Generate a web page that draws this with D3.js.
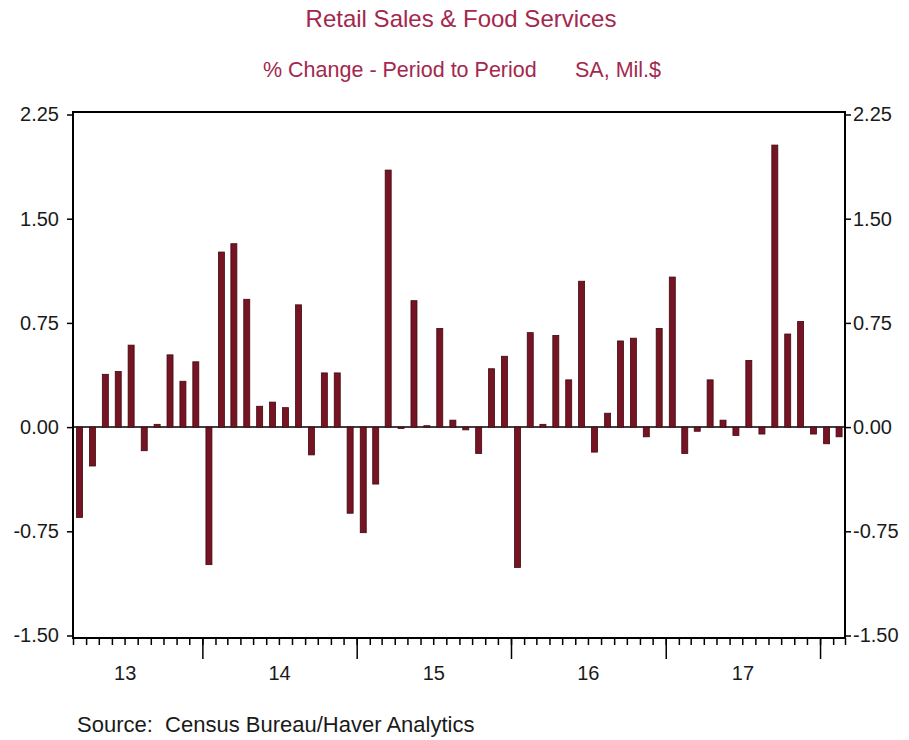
<!DOCTYPE html>
<html>
<head>
<meta charset="utf-8">
<script src="https://cdn.jsdelivr.net/npm/d3@7"></script>
<style>
  body { margin: 0; background: #fff; }
  svg { display: block; font-family: "Liberation Sans", Arial, sans-serif; }
</style>
</head>
<body>
<div id="chart"></div>
<script>
// monthly % change, Mar 2013 .. Feb 2018
const firstMonth = new Date(2013, 2, 1);
const endMonth = new Date(2018, 2, 1);
const pctChange = [
  -0.65, -0.28, 0.38, 0.40, 0.59, -0.17, 0.02, 0.52, 0.33, 0.47,             // 2013
  -0.99, 1.26, 1.32, 0.92, 0.15, 0.18, 0.14, 0.88, -0.20, 0.39, 0.39, -0.62, // 2014
  -0.76, -0.41, 1.85, -0.01, 0.91, 0.01, 0.71, 0.05, -0.02, -0.19, 0.42, 0.51, // 2015
  -1.01, 0.68, 0.02, 0.66, 0.34, 1.05, -0.18, 0.10, 0.62, 0.64, -0.07, 0.71, // 2016
  1.08, -0.19, -0.03, 0.34, 0.05, -0.06, 0.48, -0.05, 2.03, 0.67, 0.76, -0.05, // 2017
  -0.12, -0.07                                                                // 2018
];
const years = [2013, 2014, 2015, 2016, 2017];
const yearLabels = ["13", "14", "15", "16", "17"];
const yTicks = [-1.5, -0.75, 0, 0.75, 1.5, 2.25];

const title = "Retail Sales & Food Services";
const subtitleLeft = "% Change - Period to Period";
const subtitleRight = "SA, Mil.$";
const source = "Source:  Census Bureau/Haver Analytics";

const width = 909, height = 740;
const plot = {left: 73, right: 845, top: 112, bottom: 638};
const titleColor = "#a3284e";
const barColor = "#761424";
const textColor = "#1a1a1a";

const months = d3.timeMonth.range(firstMonth, endMonth);
const data = months.map((m, i) => ({month: m, value: pctChange[i]}));

const svg = d3.select("#chart")
  .append("svg")
  .attr("width", width)
  .attr("height", height);

svg.append("rect")
  .attr("width", width).attr("height", height)
  .attr("fill", "#fff");

var x = d3.scaleTime()
  .domain([firstMonth, endMonth])
  .range([plot.left, plot.right]);

var y = d3.scaleLinear()
  .domain([-1.5, 2.25])
  .range([plot.bottom - 2.5, plot.top + 2.5]);

// titles
svg.append("text")
  .attr("x", 461)
  .attr("y", 27)
  .attr("text-anchor", "middle")
  .attr("font-size", 24)
  .attr("fill", titleColor)
  .text(title);

svg.append("text")
  .attr("x", 263)
  .attr("y", 77)
  .attr("font-size", 21.5)
  .attr("fill", titleColor)
  .text(subtitleLeft);

svg.append("text")
  .attr("x", 575)
  .attr("y", 77)
  .attr("font-size", 21.5)
  .attr("fill", titleColor)
  .text(subtitleRight);

// zero line
svg.append("line")
  .attr("x1", plot.left).attr("x2", plot.right)
  .attr("y1", y(0)).attr("y2", y(0))
  .attr("stroke", "#000")
  .attr("stroke-width", 1.5);

// bars
const barW = 6;
svg.append("g")
  .selectAll("rect")
  .data(data)
  .enter()
  .append("rect")
  .attr("x", d => (x(d.month) + x(d3.timeMonth.offset(d.month, 1))) / 2 - barW / 2)
  .attr("y", d => y(Math.max(0, d.value)))
  .attr("width", barW)
  .attr("height", d => Math.abs(y(d.value) - y(0)))
  .attr("fill", barColor)
  .attr("stroke", "#3e0910")
  .attr("stroke-width", 0.8);

// frame
svg.append("rect")
  .attr("x", plot.left).attr("y", plot.top)
  .attr("width", plot.right - plot.left)
  .attr("height", plot.bottom - plot.top)
  .attr("fill", "none")
  .attr("stroke", "#000")
  .attr("stroke-width", 2);

// y axes
const fmt = d => d.toFixed(2);
svg.append("g")
  .attr("transform", "translate(" + plot.left + ",0)")
  .call(d3.axisLeft(y).tickValues(yTicks).tickSize(6).tickPadding(8).tickFormat(fmt))
  .call(g => g.select(".domain").remove())
  .call(g => g.selectAll("text").attr("font-size", 20).attr("fill", textColor).attr("font-family", null))
  .call(g => g.selectAll("line").attr("stroke", "#000").attr("stroke-width", 1.5));

svg.append("g")
  .attr("transform", "translate(" + plot.right + ",0)")
  .call(d3.axisRight(y).tickValues(yTicks).tickSize(6).tickPadding(2).tickFormat(fmt))
  .call(g => g.select(".domain").remove())
  .call(g => g.selectAll("text").attr("font-size", 20).attr("fill", textColor).attr("font-family", null))
  .call(g => g.selectAll("line").attr("stroke", "#000").attr("stroke-width", 1.5));

// x axis: month minor ticks, year major ticks
svg.append("g")
  .attr("transform", "translate(0," + plot.bottom + ")")
  .call(d3.axisBottom(x).tickValues(d3.timeMonth.range(firstMonth, d3.timeMonth.offset(endMonth, 1))).tickSize(7).tickFormat(""))
  .call(g => g.select(".domain").remove())
  .call(g => g.selectAll("line").attr("stroke", "#000").attr("stroke-width", 1.5));

svg.append("g")
  .attr("transform", "translate(0," + plot.bottom + ")")
  .call(d3.axisBottom(x).tickValues(years.slice(1).concat([2018]).map(yr => new Date(yr, 0, 1))).tickSize(21).tickFormat(""))
  .call(g => g.select(".domain").remove())
  .call(g => g.selectAll("line").attr("stroke", "#000").attr("stroke-width", 1.5));

svg.append("g")
  .selectAll("text")
  .data(years)
  .enter()
  .append("text")
  .attr("x", yr => (x(new Date(yr, 0, 1)) + x(new Date(yr + 1, 0, 1))) / 2)
  .attr("y", 680)
  .attr("text-anchor", "middle")
  .attr("font-size", 20)
  .attr("fill", textColor)
  .text((yr, i) => yearLabels[i]);

// source
svg.append("text")
  .attr("x", 77)
  .attr("y", 732)
  .attr("font-size", 22)
  .attr("fill", textColor)
  .style("white-space", "pre")
  .text(source);
</script>
</body>
</html>
